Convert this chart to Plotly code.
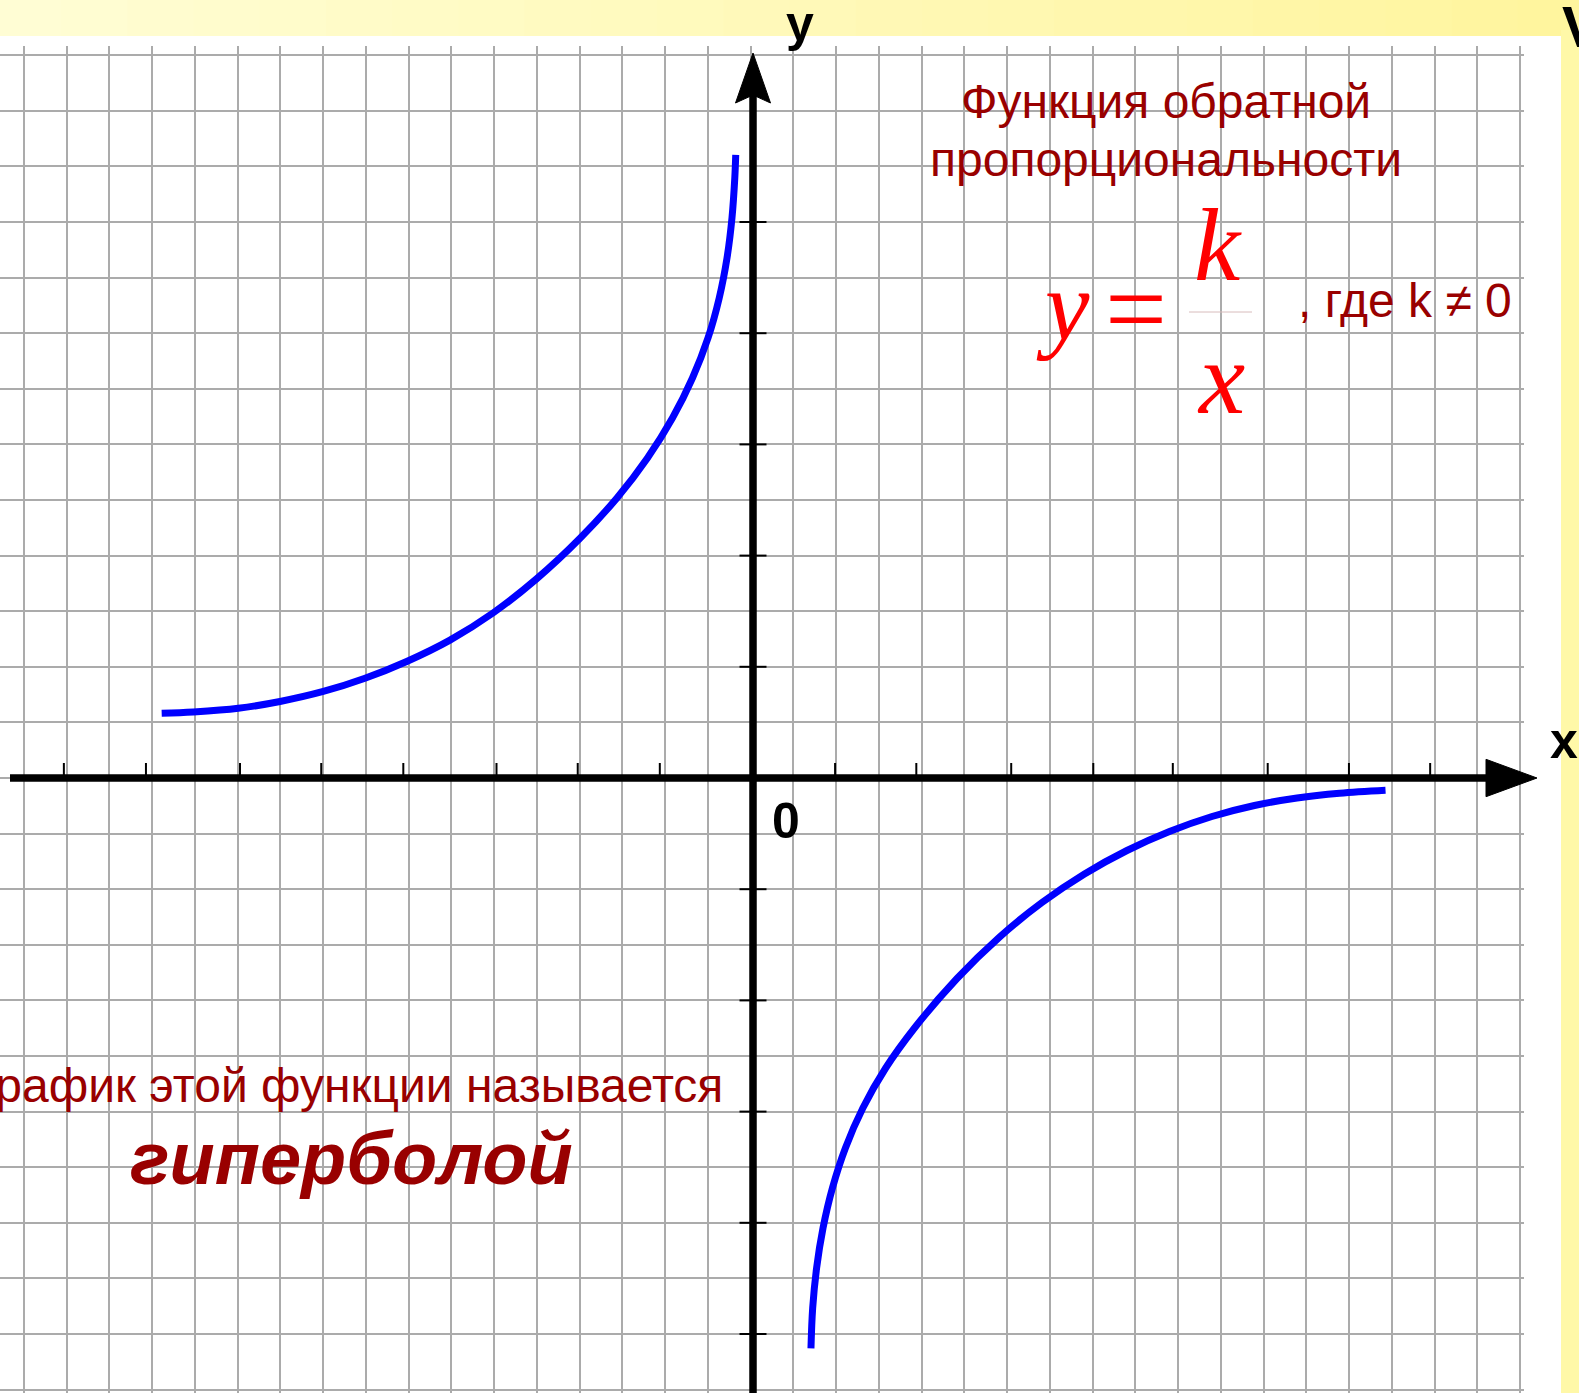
import plotly.graph_objects as go

# ---------------- data (in axis units) ----------------
left_x = [-6.916, -6.546, -6.020, -5.532, -5.026, -4.538, -4.050, -3.544, -3.037, -2.530,
          -2.023, -1.591, -1.234, -0.942, -0.708, -0.526, -0.395, -0.304, -0.246, -0.213, -0.202]
left_y = [0.582, 0.594, 0.627, 0.688, 0.778, 0.897, 1.048, 1.240, 1.486, 1.792,
          2.156, 2.518, 2.878, 3.237, 3.597, 3.957, 4.317, 4.676, 5.036, 5.396, 5.603]
right_x = [0.678, 0.698, 0.744, 0.819, 0.929, 1.081, 1.285, 1.552, 1.889, 2.386,
           2.883, 3.380, 3.877, 4.374, 4.871, 5.368, 5.865, 6.363, 6.860, 7.398]
right_y = [-5.129, -4.766, -4.406, -4.047, -3.687, -3.327, -2.968, -2.608, -2.248, -1.803,
           -1.430, -1.120, -0.863, -0.652, -0.481, -0.346, -0.247, -0.180, -0.137, -0.110]
x_tick_marks = [-8.06, -7.10, -6.00, -5.05, -4.09, -3.00, -2.05, -1.09,
                0.96, 1.91, 3.02, 3.98, 4.91, 6.02, 6.97, 7.92]
y_tick_marks = [-5, -4, -3, -2, -1, 1, 2, 3, 4, 5]

title_lines = ["Функция обратной", "пропорциональности"]
condition_text = ", где k ≠ 0"
caption_text = "График этой функции называется"
caption_word = "гиперболой"

# ---------------- geometry / style ----------------
W, H = 1579, 1393
OX, OY = 753.0, 778.0      # pixel position of the origin
SX, SY = 85.5, 111.2       # pixels per unit


def X(px):
    return (px - OX) / SX


def Y(py):
    return (OY - py) / SY


DARK_RED = "#990000"
SANS = "Liberation Sans, Arial, sans-serif"
SERIF = "Liberation Serif, Times New Roman, serif"

fig = go.Figure()

# hyperbola branches
for xs, ys in [(left_x, left_y), (right_x, right_y)]:
    fig.add_trace(go.Scatter(x=xs, y=ys, mode="lines",
                             line=dict(color="#0000FF", width=7, shape="spline", smoothing=1),
                             hoverinfo="skip", showlegend=False))

shapes = []
# white strip right of the grid and above the first grid line (cover gridlines)
shapes.append(dict(type="rect", xref="x", yref="y", layer="between",
                   x0=X(1524), x1=X(1561), y0=Y(H + 5), y1=Y(36),
                   fillcolor="white", line=dict(width=0)))
shapes.append(dict(type="rect", xref="x", yref="y", layer="between",
                   x0=X(-5), x1=X(1561), y0=Y(36), y1=Y(46),
                   fillcolor="white", line=dict(width=0)))


def lerp_col(c0, c1, t):
    a = [int(c0[i:i + 2], 16) for i in (1, 3, 5)]
    b = [int(c1[i:i + 2], 16) for i in (1, 3, 5)]
    return "#" + "".join(f"{round(a[i] + (b[i] - a[i]) * t):02X}" for i in range(3))


# yellow frame: top band with a light left-to-right gradient
N = 24
for i in range(N):
    p0 = -5 + (W + 10) * i / N
    p1 = -5 + (W + 10) * (i + 1) / N + 1
    shapes.append(dict(type="rect", xref="x", yref="y", layer="between",
                       x0=X(p0), x1=X(p1), y0=Y(36), y1=Y(-5),
                       fillcolor=lerp_col("#FFFDD4", "#FFF59E", i / (N - 1)),
                       line=dict(width=0)))
shapes.append(dict(type="rect", xref="x", yref="y", layer="between",
                   x0=X(1561), x1=X(W + 5), y0=Y(H + 5), y1=Y(30),
                   fillcolor="#FFF8A8", line=dict(width=0)))

# axes
shapes.append(dict(type="line", xref="x", yref="y", layer="above",
                   x0=X(10), x1=X(1492), y0=0, y1=0,
                   line=dict(color="black", width=7.5)))
shapes.append(dict(type="path", xref="x", yref="y", layer="above",
                   path=f"M {X(1537)},{Y(778)} L {X(1486)},{Y(759.3)} L {X(1486)},{Y(796.7)} Z",
                   fillcolor="black", line=dict(color="black", width=1)))
shapes.append(dict(type="line", xref="x", yref="y", layer="above",
                   x0=0, x1=0, y0=Y(H + 10), y1=Y(70),
                   line=dict(color="black", width=7.5)))
shapes.append(dict(type="path", xref="x", yref="y", layer="above",
                   path=(f"M {X(753)},{Y(53)} L {X(735.5)},{Y(103)} L {X(753)},{Y(95)} "
                         f"L {X(770.5)},{Y(103)} Z"),
                   fillcolor="black", line=dict(color="black", width=1)))

# tick marks
for t in x_tick_marks:
    shapes.append(dict(type="line", xref="x", yref="y", layer="above",
                       x0=t, x1=t, y0=0, y1=15 / SY,
                       line=dict(color="black", width=2)))
for t in y_tick_marks:
    shapes.append(dict(type="line", xref="x", yref="y", layer="above",
                       x0=-13.5 / SX, x1=13.5 / SX, y0=t, y1=t,
                       line=dict(color="black", width=2)))

# fraction bar
shapes.append(dict(type="line", xref="x", yref="y", layer="above",
                   x0=X(1189), x1=X(1252), y0=Y(312), y1=Y(312),
                   line=dict(color="#D8BCBC", width=1)))

annotations = []


def ann(text, px, py, size, color, family=SANS, xanchor="center",
        weight="normal", style="normal"):
    annotations.append(dict(text=text, x=X(px), y=Y(py), xref="x", yref="y",
                            showarrow=False, xanchor=xanchor, yanchor="middle",
                            font=dict(size=size, color=color, family=family,
                                      weight=weight, style=style)))


ann("y", 800, 24, 50, "black", weight="bold")
ann("x", 1564, 741, 50, "black", weight="bold")
ann("0", 786, 821, 50, "black", weight="bold")
ann("V", 1560, 26, 58, "black", xanchor="left", weight="bold")
ann(title_lines[0], 1166, 101, 48, DARK_RED)
ann(title_lines[1], 1166, 159, 48, DARK_RED)
ann("y", 1063, 306, 100, "#FF0000", family=SERIF, style="italic")
ann("=", 1136, 309, 110, "#FF0000", family=SERIF)
ann("k", 1218, 244, 104, "#FF0000", family=SERIF, style="italic")
ann("x", 1221, 377, 104, "#FF0000", family=SERIF, style="italic")
ann(condition_text, 1296, 300, 48, DARK_RED, xanchor="left")
ann(caption_text, 725, 1085, 48, DARK_RED, xanchor="right")
ann(caption_word, 351, 1158, 74, DARK_RED, weight="bold", style="italic")

grid = dict(showgrid=True, gridcolor="#ABABAB", gridwidth=1.5, dtick=0.5,
            showticklabels=False, zeroline=False, ticks="", showline=False)

fig.update_layout(
    width=W, height=H,
    margin=dict(l=0, r=0, t=0, b=0),
    paper_bgcolor="white", plot_bgcolor="white",
    xaxis=dict(range=[X(0), X(W)], tick0=X(750.5), fixedrange=True, **grid),
    yaxis=dict(range=[Y(H), Y(0)], tick0=0, fixedrange=True, **grid),
    shapes=shapes, annotations=annotations, showlegend=False,
)

fig.write_html("out.html", config={"displayModeBar": False},
               post_script="document.body.style.margin='0';document.body.style.overflow='hidden';")
